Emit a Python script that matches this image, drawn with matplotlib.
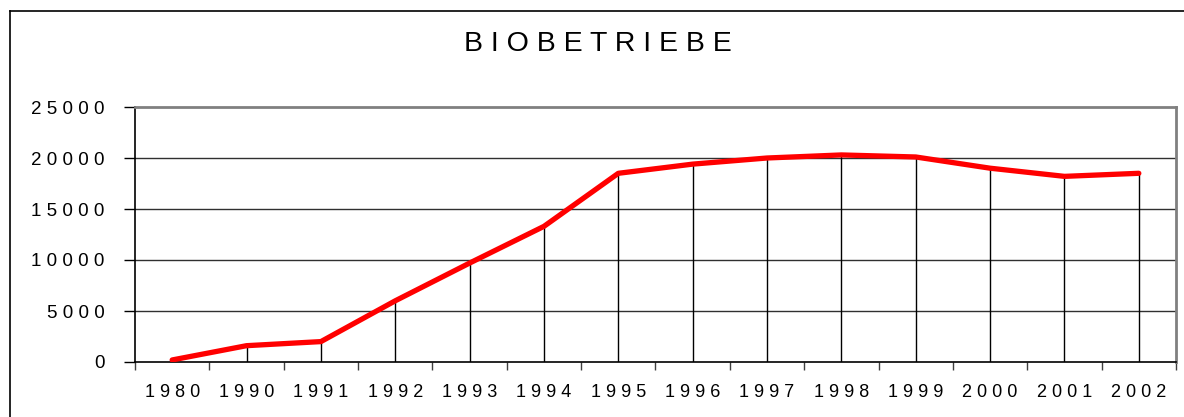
import matplotlib
matplotlib.use("Agg")
import matplotlib.pyplot as plt
from matplotlib.lines import Line2D
import numpy as np

years = ["1980", "1990", "1991", "1992", "1993", "1994", "1995", "1996",
         "1997", "1998", "1999", "2000", "2001", "2002"]
farms = [200, 1600, 2000, 6000, 9700, 13300, 18500, 19400,
         20000, 20300, 20100, 19000, 18200, 18500]
yticks = [0, 5000, 10000, 15000, 20000, 25000]

plt.rcParams['font.family'] = ['Liberation Sans', 'DejaVu Sans']

W, H = 1184, 417
fig = plt.figure(figsize=(W / 100, H / 100), dpi=100)
ax = fig.add_axes([135 / W, 1 - 362 / H, (1176 - 135) / W, (362 - 107) / H])

x = np.arange(len(years))
ax.set_xlim(-0.5, len(years) - 0.5)
ax.set_ylim(0, 25000)

for v in yticks[1:-1]:
    ax.axhline(v, color='#303030', lw=1.0, zorder=1)

ax.vlines(x, 0, farms, color='black', lw=1.0, zorder=2)
ax.plot(x, farms, color='#ff0000', lw=3.8, solid_capstyle='round',
        solid_joinstyle='round', zorder=3)

ax.set_yticks(yticks)
ax.set_yticklabels([" ".join(str(v)) for v in yticks], fontsize=13.5)
ax.set_xticks(np.arange(-0.5, len(years), 1.0))
ax.set_xticklabels([])
ax.set_xticks(x, minor=True)
ax.set_xticklabels([" ".join(y) for y in years], minor=True, fontsize=13)
ax.tick_params(axis='x', which='major', direction='out', length=6, width=1, color='#404040')
ax.tick_params(axis='x', which='minor', length=0, pad=16)
ax.tick_params(axis='y', direction='out', length=8, width=1, pad=13.7)

for s in ['left', 'bottom']:
    ax.spines[s].set_color('black')
    ax.spines[s].set_linewidth(1.2)
for s in ['top', 'right']:
    ax.spines[s].set_color('#808080')
    ax.spines[s].set_linewidth(2.0)

fig.text(598 / W, 1 - 44 / H, "B I O B E T R I E B E", ha='center', va='center',
         fontsize=20.5)

fig.add_artist(Line2D([10 / W, 10 / W], [0, 1 - 11 / H], color='black', lw=1.2,
                      transform=fig.transFigure))
fig.add_artist(Line2D([10 / W, 1], [1 - 11 / H, 1 - 11 / H], color='black', lw=1.2,
                      transform=fig.transFigure))

fig.savefig("out.png", dpi=100)
